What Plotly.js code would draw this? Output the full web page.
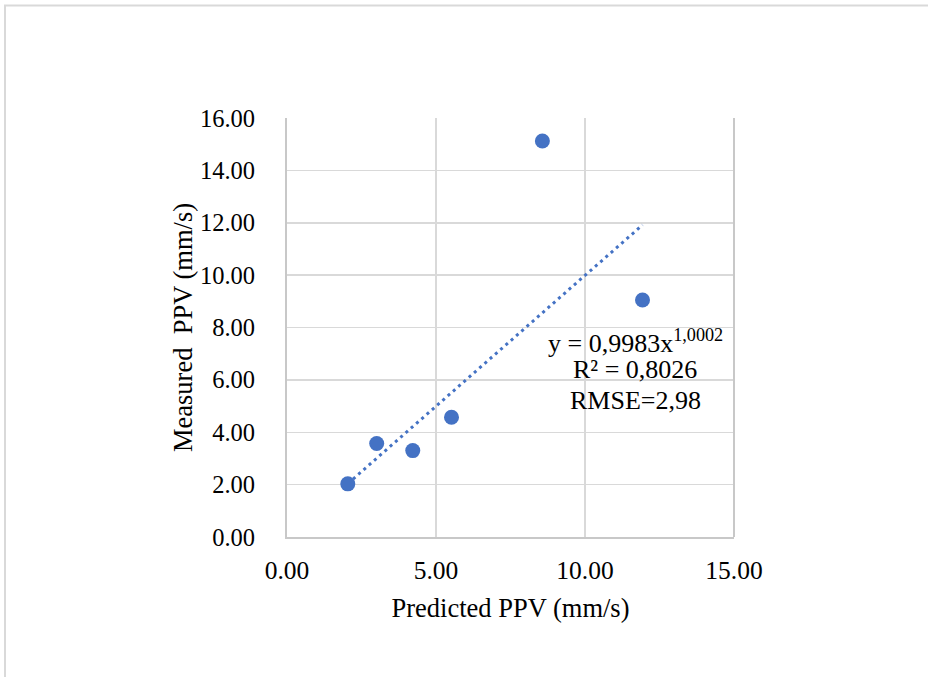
<!DOCTYPE html>
<html>
<head>
<meta charset="utf-8">
<script src="https://cdn.plot.ly/plotly-3.0.1.min.js"></script>
<style>html,body{margin:0;padding:0;background:#fff;}#chart{width:928px;height:677px;}</style>
</head>
<body>
<div id="chart"></div>
<script>
// Data
const predicted = [2.04, 3.01, 4.22, 5.52, 8.57, 11.93];
const measured  = [2.03, 3.57, 3.30, 4.57, 15.12, 9.05];
// Power trendline coefficients as printed on the chart
const trendA = 0.9983;
const trendB = 1.0002;
const xTicks = [0, 5, 10, 15];
const xTickLabels = ["0.00", "5.00", "10.00", "15.00"];
const yTicks = [0, 2, 4, 6, 8, 10, 12, 14, 16];
const yTickLabels = ["0.00", "2.00", "4.00", "6.00", "8.00", "10.00", "12.00", "14.00", "16.00"];

const xMin = Math.min(...predicted), xMax = Math.max(...predicted);
const trendX = [], trendY = [];
for (let i = 0; i <= 50; i++) {
  const x = xMin + (xMax - xMin) * i / 50;
  trendX.push(x);
  trendY.push(trendA * Math.pow(x, trendB));
}

const font = '"Liberation Serif", "Times New Roman", serif';
const blue = "#4472C4";

const traces = [
  {x: trendX, y: trendY, mode: "lines", type: "scatter",
   line: {color: blue, width: 3, dash: "3px,4px"}, hoverinfo: "skip"},
  {x: predicted, y: measured, mode: "markers", type: "scatter",
   marker: {color: blue, size: 15}}
];

const L = 287, R = 734, T = 118, B = 537, W = 928, H = 677;
const px = p => (p - L) / (R - L);
const py = p => (B - p) / (B - T);

const layout = {
  width: W, height: H,
  margin: {l: L, r: W - R, t: T, b: H - B, pad: 0},
  paper_bgcolor: "#fff", plot_bgcolor: "#fff",
  showlegend: false,
  font: {family: font, color: "#000", size: 25},
  xaxis: {
    range: [0, 15], tickvals: xTicks, ticktext: xTickLabels,
    showgrid: true, gridcolor: "#d9d9d9", gridwidth: 1.5,
    showline: true, linecolor: "#c8c8c8", linewidth: 2, mirror: false,
    zeroline: false, ticks: "", ticklabelstandoff: 9,
    tickfont: {family: font, size: 25.5, color: "#000"},
    title: {text: "Predicted PPV (mm/s)", font: {family: font, size: 26.5, color: "#000"}, standoff: 15}
  },
  yaxis: {
    range: [0, 16], tickvals: yTicks, ticktext: yTickLabels,
    showgrid: true, gridcolor: "#d9d9d9", gridwidth: 1.5,
    showline: true, linecolor: "#c8c8c8", linewidth: 2,
    zeroline: false, ticks: "", ticklabelstandoff: 25,
    tickfont: {family: font, size: 24.5, color: "#000"},
    title: {text: "Measured  PPV (mm/s)", font: {family: font, size: 26.5, color: "#000"}, standoff: 0}
  },
  annotations: [
    {x: 11.68, y: 7.45, xref: "x", yref: "y", showarrow: false,
     text: "y = 0,9983x<sup>1,0002</sup>", font: {family: font, size: 26, color: "#000"}},
    {x: 11.68, y: 6.41, xref: "x", yref: "y", showarrow: false,
     text: "R² = 0,8026", font: {family: font, size: 26, color: "#000"}},
    {x: 11.70, y: 5.23, xref: "x", yref: "y", showarrow: false,
     text: "RMSE=2,98", font: {family: font, size: 26, color: "#000"}}
  ],
  shapes: [
    {type: "line", xref: "paper", yref: "paper", x0: px(4), x1: px(928), y0: py(5.5), y1: py(5.5),
     line: {color: "#d9d9d9", width: 2}},
    {type: "line", xref: "paper", yref: "paper", x0: px(5), x1: px(5), y0: py(5), y1: py(677),
     line: {color: "#d9d9d9", width: 2}},
    {type: "line", xref: "paper", yref: "paper", x0: 1, x1: 1, y0: 0, y1: 1,
     line: {color: "#c8c8c8", width: 2}}
  ]
};

Plotly.newPlot("chart", traces, layout, {staticPlot: true, displayModeBar: false});
</script>
</body>
</html>
